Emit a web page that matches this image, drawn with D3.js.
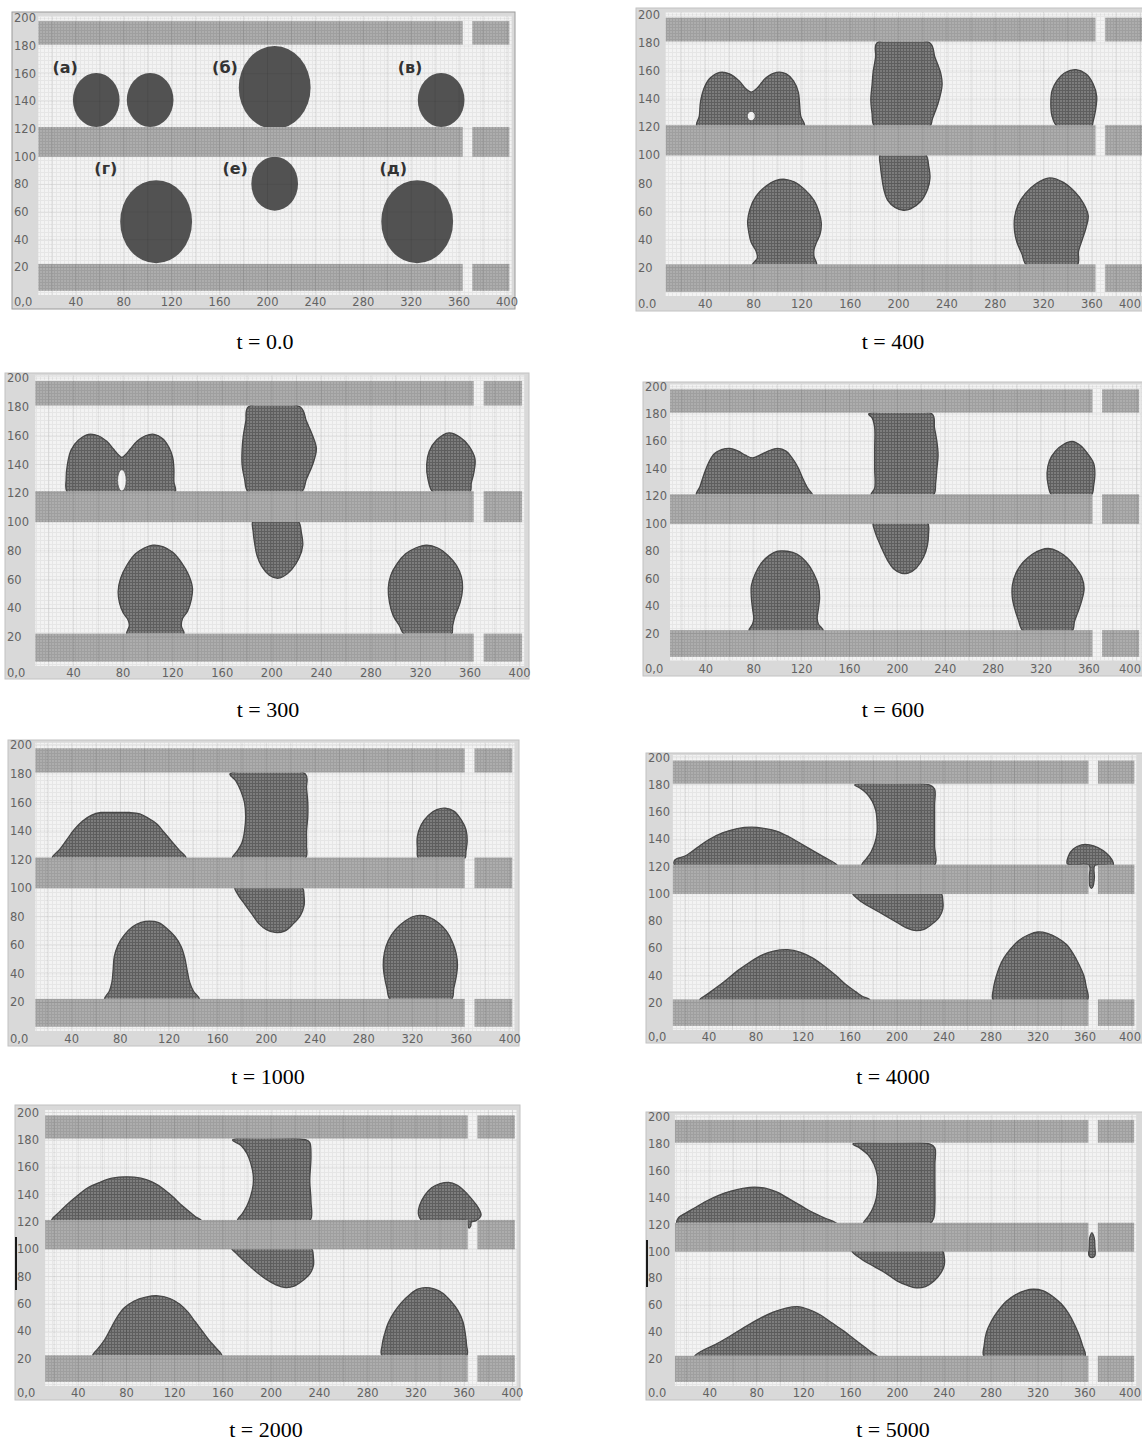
<!DOCTYPE html>
<html>
<head>
<meta charset="utf-8">
<script src="https://cdn.jsdelivr.net/npm/d3@7"></script>
<style>
  html, body { margin: 0; padding: 0; background: #fff; }
  svg { display: block; }
</style>
</head>
<body>
<svg id="fig" width="1142" height="1442"></svg>
<script>
// ---- axis ticks and captions ----
const xTickValues = [40, 80, 120, 160, 200, 240, 280, 320, 360, 400];
const yTickValues = [20, 40, 60, 80, 100, 120, 140, 160, 180, 200];
const timeLabels = ["0.0", "400", "300", "600", "1000", "4000", "2000", "5000"];
const originLabels = ["0,0", "0.0", "0,0", "0,0", "0,0", "0,0", "0,0", "0.0"];

// ---- channel walls (data units): horizontal bands and x-segments with a gap ----
const wallBandsY = [[3, 22.5], [100, 121.5], [181, 198]];
const wallSegmentsX = [[0, 363], [371, 402]];
// free space where the liquid can be: between the walls and inside the gap
const freeBandsY = [[22.5, 100], [121.5, 181]];
const gapX = [363, 371];

// ---- initial drops at t = 0: [cx, cy, r] ----
const initialDrops = [[57, 141, 19.5], [102, 141, 19.5], [206, 150, 30], [345, 141, 19.5],
                      [107, 53, 30], [206, 80.5, 19.5], [325, 53, 30]];
const dropNames = ["(а)", "(б)", "(в)", "(г)", "(е)", "(д)"];
const dropNameAnchors = [[31, 165], [164.5, 165], [319, 165], [65, 92], [173, 92], [305, 92]];

// ---- drop outlines at later times: [x, y] points ----
const outlines300 = [
  [[35,121],[34,130],[35,140],[38,150],[44,157],[52,161],[60,160],[67,156],[72,151],[76,147],[79,145],[82,147],[86,151],[91,156],[98,160],[105,161],[112,158],[117,152],[120,145],[121,137],[121,128],[122,121],[100,120],[60,120]],
  [[181,180],[223,180],[228,170],[233,160],[236,151],[233,140],[228,130],[224,121],[200,120],[181,121],[178,130],[176,140],[176,150],[177,160],[179,170]],
  [[185,101],[203,102],[221,101],[224,92],[225,84],[222,75],[216,67],[209,62],[204,61],[198,63],[192,69],[188,77],[186,86],[185,93]],
  [[330,121],[326,130],[325,140],[327,149],[333,157],[343,162],[352,159],[359,153],[364,144],[363,134],[361,127],[360,121],[345,120]],
  [[83,22],[85,28],[84,32],[80,37],[77,44],[76,52],[78,61],[83,70],[90,78],[97,82],[104,84],[112,83],[120,79],[127,72],[133,63],[136,54],[135,46],[132,38],[128,33],[127,28],[129,22],[106,21]],
  [[307,22],[303,28],[298,35],[295,44],[294,54],[296,63],[301,71],[308,78],[316,82],[325,84],[334,82],[342,77],[349,70],[353,62],[354,54],[352,44],[348,35],[346,28],[345,22],[326,21]]
];
const holes300 = [[79, 129, 3.5, 7.5]];

const outlines400 = [
  [[33,121],[35,128],[36,138],[39,148],[44,155],[52,159],[60,158],[68,153],[74,147],[78,145],[83,148],[90,155],[99,159],[107,158],[113,153],[117,145],[118,137],[119,128],[122,121],[100,120],[60,120]],
  [[182,180],[226,180],[230,170],[235,158],[236,150],[233,138],[228,126],[226,121],[203,120],[180,121],[178,130],[177,140],[178,150],[179,160],[181,170]],
  [[185,101],[203,102],[222,101],[225,92],[226,84],[224,76],[218,67],[210,62],[204,61],[197,63],[191,68],[188,75],[186,85],[185,92]],
  [[331,121],[327,128],[326,137],[327,146],[331,153],[338,159],[347,161],[355,158],[361,151],[364,142],[363,132],[361,124],[360,121],[345,120]],
  [[79,22],[83,27],[82,32],[78,38],[76,45],[75,53],[77,62],[82,71],[90,78],[98,82],[106,83],[114,81],[122,76],[130,68],[134,60],[136,52],[135,44],[132,38],[130,33],[130,28],[132,22],[106,21]],
  [[306,22],[302,30],[298,38],[296,46],[296,56],[299,65],[305,73],[314,80],[325,84],[336,81],[346,74],[353,66],[357,57],[355,48],[352,40],[349,32],[348,22],[327,21]]
];
const holes400 = [[78, 128, 3.3, 3.3]];

const outlines600 = [
  [[32,121],[35,127],[38,135],[42,144],[47,151],[53,154],[60,155],[67,153],[73,150],[79,148],[85,150],[92,153],[100,155],[107,153],[112,148],[117,141],[121,133],[125,126],[129,121],[100,120],[60,120]],
  [[176,180],[229,180],[231,170],[233,160],[234,150],[233,140],[232,130],[230,121],[204,120],[178,121],[181,126],[181,140],[181,155],[181,170],[179,177]],
  [[180,101],[203,102],[225,101],[226,92],[225,84],[222,76],[216,68],[209,64],[203,64],[197,67],[192,73],[188,80],[184,88],[181,95]],
  [[329,121],[326,128],[325,137],[327,146],[332,153],[339,158],[346,160],[353,157],[359,151],[364,144],[365,136],[364,128],[362,121],[345,120]],
  [[76,22],[79,27],[80,31],[79,38],[78,46],[78,55],[81,63],[86,71],[93,77],[100,80],[108,80],[116,78],[124,72],[130,64],[134,55],[135,46],[134,38],[133,31],[134,27],[138,22],[107,21]],
  [[305,22],[301,30],[298,38],[296,46],[296,55],[299,64],[305,72],[313,78],[320,81],[326,82],[334,80],[342,75],[349,68],[354,61],[356,53],[354,44],[351,36],[348,29],[346,22],[325,21]]
];

const outlines1000 = [
  [[24,121],[30,127],[36,134],[42,141],[49,147],[56,151],[64,153],[75,153],[88,153],[96,152],[103,149],[110,145],[116,139],[122,133],[128,127],[134,121],[100,120],[60,120]],
  [[170,180],[232,180],[233,170],[234,160],[234,150],[233,140],[233,130],[232,121],[200,120],[172,121],[176,126],[180,132],[182,140],[183,150],[182,160],[179,168],[175,175]],
  [[174,101],[200,102],[229,101],[231,94],[231,88],[228,81],[222,75],[215,70],[207,69],[200,71],[194,75],[188,82],[182,89],[177,95]],
  [[325,121],[324,128],[324,136],[327,144],[333,151],[340,155],[347,156],[354,154],[360,148],[364,141],[365,133],[364,126],[363,121],[344,120]],
  [[67,22],[71,28],[73,34],[74,42],[75,52],[78,60],[83,67],[90,73],[97,76],[104,77],[111,76],[118,72],[125,66],[130,59],[133,51],[135,42],[137,34],[140,28],[145,22],[106,21]],
  [[302,22],[299,30],[297,38],[296,46],[297,55],[300,63],[306,71],[314,77],[320,80],[326,81],[333,80],[341,76],[348,70],[353,62],[356,54],[357,46],[356,38],[354,30],[352,22],[327,21]]
];

const outlines2000 = [
  [[18,121],[24,127],[31,133],[39,139],[48,145],[58,149],[68,152],[80,153],[92,152],[102,149],[111,144],[119,138],[126,132],[133,127],[137,124],[142,121],[100,120],[60,120]],
  [[168,180],[229,180],[232,178],[233,168],[232,150],[233,135],[232,121],[200,120],[172,121],[176,126],[180,132],[183,139],[185,147],[185,155],[183,163],[180,170],[175,176]],
  [[167,101],[200,102],[233,101],[235,94],[235,88],[232,82],[226,77],[219,73],[212,72],[204,74],[196,78],[187,84],[178,91],[171,97]],
  [[325,121],[322,126],[323,132],[327,139],[333,145],[340,148],[347,149],[354,147],[361,142],[367,136],[372,130],[374,125],[370,121],[366,120],[365.5,117],[364,115.5],[363,118],[362,121],[343,120]],
  [[52,22],[57,28],[62,34],[67,42],[72,50],[78,57],[86,62],[96,65],[106,66],[116,64],[124,60],[131,54],[137,47],[143,40],[149,33],[154,28],[159,22],[105,21]],
  [[292,22],[292,30],[294,38],[297,46],[302,54],[308,61],[315,67],[322,71],[328,72],[335,71],[342,68],[349,62],[355,55],[359,47],[361,38],[362,30],[362,22],[327,21]]
];

const outlines4000 = [
  [[11,121],[11,125],[20,128],[30,134],[40,140],[52,145],[64,148],[76,149],[88,148],[98,146],[108,142],[118,137],[128,132],[138,127],[149,121],[110,120],[60,120]],
  [[164,180],[228,180],[232,177],[232,165],[232,150],[232,135],[232,121],[200,120],[170,121],[174,126],[178,131],[181,137],[183,145],[183,153],[182,161],[179,168],[174,174],[168,178]],
  [[162,101],[200,102],[237,101],[239,95],[239,89],[236,83],[230,78],[223,74],[216,73],[208,75],[200,79],[190,84],[180,89],[170,94]],
  [[345,122],[346,128],[350,133],[357,136],[364,136],[371,134],[378,130],[383,125],[384,121],[368.5,121],[368,112],[367,106],[365.5,104],[364,106],[363.5,112],[363.5,121]],
  [[32,22],[38,26],[46,31],[55,37],[65,44],[75,50],[85,55],[95,58],[107,59],[118,57],[128,53],[138,47],[148,40],[157,33],[165,28],[170,25],[177,22],[105,21]],
  [[282,22],[282,30],[284,38],[287,46],[291,53],[297,60],[304,66],[312,70],[320,72],[328,71],[336,68],[344,63],[350,56],[355,48],[359,40],[361,32],[362,22],[322,21]]
];

const outlines5000 = [
  [[12,121],[13,125],[20,129],[28,133],[38,138],[48,142],[58,145],[68,147],[78,148],[88,147],[98,144],[108,139],[118,134],[128,129],[138,125],[148,121],[110,120],[60,120]],
  [[162,180],[228,180],[232,177],[232,165],[232,150],[232,135],[231,125],[228,121],[200,120],[171,121],[175,126],[179,132],[182,140],[183,148],[183,156],[180,165],[175,172],[168,177]],
  [[161,101],[200,102],[238,101],[240,96],[240,90],[237,84],[231,78],[224,74],[216,73],[208,75],[200,78],[190,84],[180,89],[170,94]],
  [[363.5,97],[363.5,104],[364,110],[366,114],[368,110],[368.5,104],[368.5,97],[366,95.5]],
  [[27,22],[35,27],[45,31],[57,37],[70,44],[82,50],[94,55],[105,58],[115,59],[124,57],[134,53],[144,47],[154,41],[163,35],[172,29],[178,25],[183,22],[105,21]],
  [[274,22],[274,30],[276,40],[280,48],[286,56],[293,63],[301,68],[309,71],[316,72],[324,71],[332,67],[340,61],[346,54],[351,46],[355,38],[358,30],[360,22],[317,21]]
];

// ---- page layout of the eight snapshots (pixels) ----
const panels = [
  { frame: [12, 12, 515, 309],     xr: [28, 507],     yr: [295, 18.4],    xmin: 8.5,  cap: [265, 349],  outlines: null,         holes: [] },
  { frame: [636, 8, 1146, 311],    xr: [657, 1140.2], yr: [296, 14.8],    xmin: 7,    cap: [893, 349],  outlines: outlines400,  holes: holes400 },
  { frame: [5, 373, 529, 679],     xr: [24, 519.6],   yr: [666, 378.2],   xmin: 9,    cap: [268, 717],  outlines: outlines300,  holes: holes300 },
  { frame: [643, 382, 1146, 676],  xr: [658, 1136.8], yr: [661, 386.6],   xmin: 10,   cap: [893, 717],  outlines: outlines600,  holes: [] },
  { frame: [8, 740, 519, 1046],    xr: [23, 509.8],   yr: [1031, 745.4],  xmin: 10,   cap: [268, 1084], outlines: outlines1000, holes: [] },
  { frame: [646, 753, 1146, 1043], xr: [662, 1132],   yr: [1030, 757.8],  xmin: 9,    cap: [893, 1084], outlines: outlines4000, holes: [] },
  { frame: [15, 1105, 520, 1400],  xr: [30, 512.4],   yr: [1386, 1112.6], xmin: 12.5, cap: [266, 1437], outlines: outlines2000, holes: [], marker: [1237, 1290] },
  { frame: [646, 1112, 1146, 1400],xr: [663, 1131.8], yr: [1386, 1117.2], xmin: 10,   cap: [893, 1437], outlines: outlines5000, holes: [], marker: [1240, 1287] }
];

const pageWidth = 1142;
const svg = d3.select("#fig");
const defs = svg.append("defs");

// fine mesh textures of the computational grid
function meshPattern(id, base, line, pitch) {
  const p = defs.append("pattern")
    .attr("id", id)
    .attr("patternUnits", "userSpaceOnUse")
    .attr("width", pitch).attr("height", pitch);
  p.append("rect").attr("width", pitch).attr("height", pitch).attr("fill", base);
  p.append("path")
    .attr("d", `M0 0.5H${pitch}M0.5 0V${pitch}`)
    .attr("stroke", line).attr("stroke-width", 1).attr("fill", "none");
}
meshPattern("bgMesh", "#f3f3f3", "#e6e6e6", 4);
meshPattern("wallMesh", "#adadad", "#9f9f9f", 3);
meshPattern("fluidMesh", "#7d7d7d", "#5f5f5f", 3);

const tickFont = "'DejaVu Sans', Verdana, sans-serif";
const tickSize = 11.5;

panels.forEach((p, i) => {
  const [L, T, R, B] = p.frame;
  const x = d3.scaleLinear().domain([0, 400]).range(p.xr);
  const y = d3.scaleLinear().domain([0, 200]).range(p.yr);
  const g = svg.append("g");

  // window frame with the axis strips
  g.append("rect")
    .attr("x", L).attr("y", T).attr("width", R - L).attr("height", B - T)
    .attr("fill", "#d9d9d9").attr("stroke", i === 0 ? "#9a9a9a" : "#c2c2c2").attr("stroke-width", 1);

  const px0 = x(p.xmin), px1 = Math.min(x(404), R - 2);
  const py0 = y(0), py1 = y(202);
  const clipId = "plotClip" + i;
  defs.append("clipPath").attr("id", clipId)
    .append("rect").attr("x", px0).attr("y", py1).attr("width", px1 - px0).attr("height", py0 - py1);

  // liquid may only occupy the free space between walls
  const fluidClipId = "fluidClip" + i;
  const fc = defs.append("clipPath").attr("id", fluidClipId);
  freeBandsY.forEach(([y0, y1]) => {
    fc.append("rect").attr("x", px0).attr("y", y(y1))
      .attr("width", px1 - px0).attr("height", y(y0) - y(y1));
  });
  fc.append("rect").attr("x", x(gapX[0])).attr("y", py1)
    .attr("width", x(gapX[1]) - x(gapX[0])).attr("height", py0 - py1);

  const plot = g.append("g").attr("clip-path", `url(#${clipId})`);
  plot.append("rect")
    .attr("x", px0).attr("y", py1).attr("width", px1 - px0).attr("height", py0 - py1)
    .attr("fill", "url(#bgMesh)");

  // walls of the channel
  wallBandsY.forEach(([y0, y1]) => {
    wallSegmentsX.forEach(([x0, x1]) => {
      const xa = x(Math.max(x0, p.xmin));
      plot.append("rect")
        .attr("x", xa).attr("y", y(y1))
        .attr("width", x(x1) - xa).attr("height", y(y0) - y(y1))
        .attr("fill", "url(#wallMesh)");
    });
  });

  const fluid = plot.append("g").attr("clip-path", `url(#${fluidClipId})`);
  if (p.outlines === null) {
    // initial round drops
    initialDrops.forEach(([cx, cy, r]) => {
      fluid.append("ellipse")
        .attr("cx", x(cx)).attr("cy", y(cy))
        .attr("rx", x(r) - x(0)).attr("ry", y(0) - y(r))
        .attr("fill", "#525252");
    });
  } else {
    const line = d3.line()
      .x(d => x(d[0])).y(d => y(d[1]))
      .curve(d3.curveCatmullRomClosed.alpha(0.5));
    p.outlines.forEach(pts => {
      fluid.append("path")
        .attr("d", line(pts))
        .attr("fill", "url(#fluidMesh)")
        .attr("stroke", "#474747").attr("stroke-width", 1.3)
        .attr("stroke-linejoin", "round");
    });
    p.holes.forEach(([cx, cy, rx, ry]) => {
      fluid.append("ellipse")
        .attr("cx", x(cx)).attr("cy", y(cy))
        .attr("rx", x(rx) - x(0)).attr("ry", y(0) - y(ry))
        .attr("fill", "#f3f3f3").attr("stroke", "#555").attr("stroke-width", 0.8);
    });
  }

  // major grid lines over everything
  d3.range(20, 401, 20).forEach(v => {
    plot.append("line")
      .attr("x1", x(v)).attr("x2", x(v)).attr("y1", py1).attr("y2", py0)
      .attr("stroke", "#000").attr("stroke-opacity", 0.08).attr("stroke-width", 1);
  });
  d3.range(20, 201, 20).forEach(v => {
    plot.append("line")
      .attr("x1", px0).attr("x2", px1).attr("y1", y(v)).attr("y2", y(v))
      .attr("stroke", "#000").attr("stroke-opacity", 0.05).attr("stroke-width", 1);
  });

  // tick labels
  const labelY = (py0 + B) / 2 + 4;
  yTickValues.forEach(v => {
    g.append("text")
      .attr("x", L + 2).attr("y", y(v) + 4)
      .attr("font-family", tickFont).attr("font-size", tickSize)
      .attr("fill", "#636363")
      .text(v);
  });
  xTickValues.forEach(v => {
    const label = String(v);
    const halfW = label.length * 0.636 * tickSize / 2;
    const cx = Math.min(x(v), pageWidth - halfW - 1);
    g.append("text")
      .attr("x", cx).attr("y", labelY)
      .attr("text-anchor", "middle")
      .attr("font-family", tickFont).attr("font-size", tickSize)
      .attr("fill", "#636363")
      .text(label);
  });
  g.append("text")
    .attr("x", L + 2).attr("y", labelY)
    .attr("font-family", tickFont).attr("font-size", tickSize)
    .attr("fill", "#636363")
    .text(originLabels[i]);

  if (p.outlines === null) {
    dropNames.forEach((name, k) => {
      g.append("text")
        .attr("x", x(dropNameAnchors[k][0])).attr("y", y(dropNameAnchors[k][1]) + 6)
        .attr("text-anchor", "middle")
        .attr("font-family", "'DejaVu Sans', sans-serif").attr("font-weight", "bold")
        .attr("font-size", 16).attr("fill", "#333")
        .text(name);
    });
  }

  if (p.marker) {
    g.append("line")
      .attr("x1", L + 1).attr("x2", L + 1).attr("y1", p.marker[0]).attr("y2", p.marker[1])
      .attr("stroke", "#1a1a1a").attr("stroke-width", 2);
  }

  // time caption
  svg.append("text")
    .attr("x", p.cap[0]).attr("y", p.cap[1])
    .attr("text-anchor", "middle")
    .attr("font-family", "'Liberation Serif', 'Times New Roman', serif")
    .attr("font-size", 22).attr("fill", "#000")
    .text("t = " + timeLabels[i]);
});
</script>
</body>
</html>
